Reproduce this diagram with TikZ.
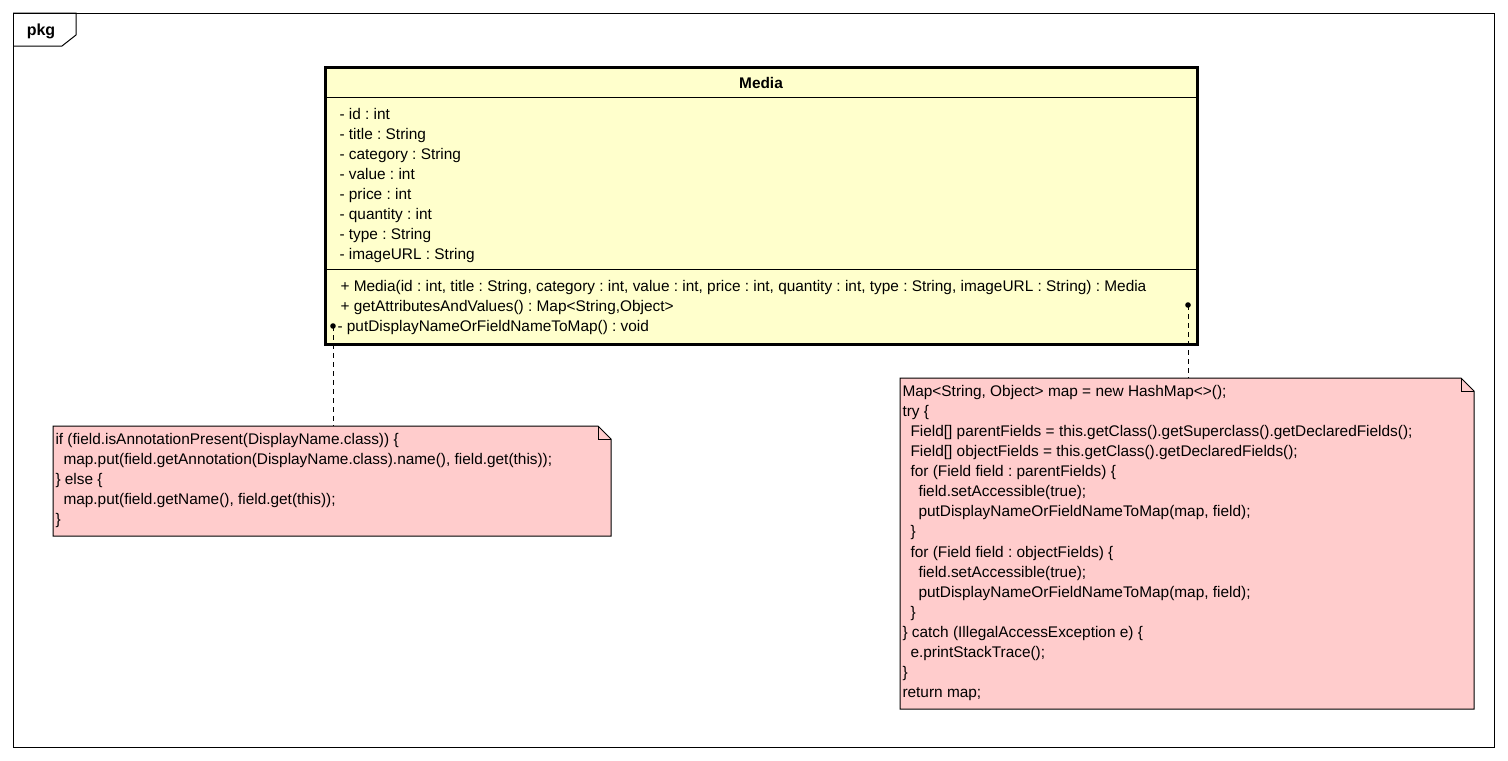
\documentclass[tikz,border=0pt]{standalone}
\usepackage{fontspec}
\setmainfont{Liberation Sans}
\usepackage{xcolor}
\usetikzlibrary{positioning}
\frenchspacing

\definecolor{classyellow}{HTML}{FFFFCC}
\definecolor{notepink}{HTML}{FFCCCC}

\tikzset{
  codefont/.style={font=\fontsize{7.7}{9}\selectfont},
  member/.style={codefont, anchor=base west, inner sep=0pt},
  classbox/.style={draw, line width=1.5pt, fill=classyellow, inner sep=0pt, outer sep=0pt},
  notebox/.style={inner sep=0pt, outer sep=0pt},
  noteline/.style={draw, line width=0.5pt, fill=notepink},
  anchorline/.style={line width=0.5pt, dash pattern=on 2.5pt off 2pt},
}

\begin{document}
\begin{tikzpicture}[x=0.5pt, y=-0.5pt, line width=0.5pt]
\useasboundingbox (0,0) rectangle (1508,760);

% package frame
\node[draw, inner sep=0pt, outer sep=0pt, minimum width=740.5pt, minimum height=367pt] (pkg) at (753.5,380) {};
\draw (pkg.north west) -- ++(63,0) -- ++(0,22) -- ++(-14,11) -- ++(-49,0);
\node[font=\bfseries\fontsize{8}{9}\selectfont] (pkgname) at (41,31) {pkg};

% class Media
\node[classbox, minimum width=436pt, minimum height=138.5pt] (media) at (761,205.5) {};
\node[font=\bfseries\fontsize{7.7}{9}\selectfont] (medianame) at (761,83) {Media};
\draw ([yshift=-15pt]media.north west) -- ([yshift=-15pt]media.north east);
\draw ([yshift=-101pt]media.north west) -- ([yshift=-101pt]media.north east);

\foreach \txt [count=\i] in {{- id : int}, {- title : String}, {- category : String}, {- value : int},
    {- price : int}, {- quantity : int}, {- type : String}, {- imageURL : String}}
  \node[member] (attr-\i) at (339,{119+20.1*(\i-1)}) {\txt};

\node[member] (op-1) at (340,291) {+ Media(id : int, title : String, category : int, value : int, price : int, quantity : int, type : String, imageURL : String) : Media};
\node[member] (op-2) at (340,311) {+ getAttributesAndValues() : Map<String,Object>};
\node[member] (op-3) at (337,331) {- putDisplayNameOrFieldNameToMap() : void};

% note for putDisplayNameOrFieldNameToMap
\node[notebox, minimum width=279pt, minimum height=55pt] (leftnote) at (332,481) {};
\draw[noteline] (leftnote.north west) -- ([xshift=-6.5pt]leftnote.north east)
  -- ([yshift=-6.5pt]leftnote.north east) -- (leftnote.south east) -- (leftnote.south west) -- cycle;
\draw ([xshift=-6.5pt]leftnote.north east) -- ([xshift=-6.5pt,yshift=-6.5pt]leftnote.north east)
  -- ([yshift=-6.5pt]leftnote.north east);
\foreach \lvl/\txt [count=\i] in {
    0/{if (field.isAnnotationPresent(DisplayName.class)) \{},
    1/{map.put(field.getAnnotation(DisplayName.class).name(), field.get(this));},
    0/{\} else \{},
    1/{map.put(field.getName(), field.get(this));},
    0/{\}}}
  \node[member, xshift=\lvl*4pt] (lnote-\i) at (55,{444+20.1*(\i-1)}) {\txt};

% note for getAttributesAndValues
\node[notebox, minimum width=287pt, minimum height=165.5pt] (rightnote) at (1187,543.5) {};
\draw[noteline] (rightnote.north west) -- ([xshift=-6.5pt]rightnote.north east)
  -- ([yshift=-6.5pt]rightnote.north east) -- (rightnote.south east) -- (rightnote.south west) -- cycle;
\draw ([xshift=-6.5pt]rightnote.north east) -- ([xshift=-6.5pt,yshift=-6.5pt]rightnote.north east)
  -- ([yshift=-6.5pt]rightnote.north east);
\foreach \lvl/\txt [count=\i] in {
    0/{Map<String, Object> map = new HashMap<>();},
    0/{try \{},
    1/{Field[] parentFields = this.getClass().getSuperclass().getDeclaredFields();},
    1/{Field[] objectFields = this.getClass().getDeclaredFields();},
    1/{for (Field field : parentFields) \{},
    2/{field.setAccessible(true);},
    2/{putDisplayNameOrFieldNameToMap(map, field);},
    1/{\}},
    1/{for (Field field : objectFields) \{},
    2/{field.setAccessible(true);},
    2/{putDisplayNameOrFieldNameToMap(map, field);},
    1/{\}},
    0/{\} catch (IllegalAccessException e) \{},
    1/{e.printStackTrace();},
    0/{\}},
    0/{return map;}}
  \node[member, xshift=\lvl*4pt] (rnote-\i) at (902,{396+20.13*(\i-1)}) {\txt};

% note anchors
\coordinate (dot-left) at (333,326);
\coordinate (dot-right) at (1188,305);
\fill (dot-left) circle (1.4pt);
\fill (dot-right) circle (1.4pt);
\draw[anchorline] (dot-left) -- (dot-left |- leftnote.north);
\draw[anchorline] (dot-right) -- (dot-right |- rightnote.north);
\end{tikzpicture}
\end{document}
